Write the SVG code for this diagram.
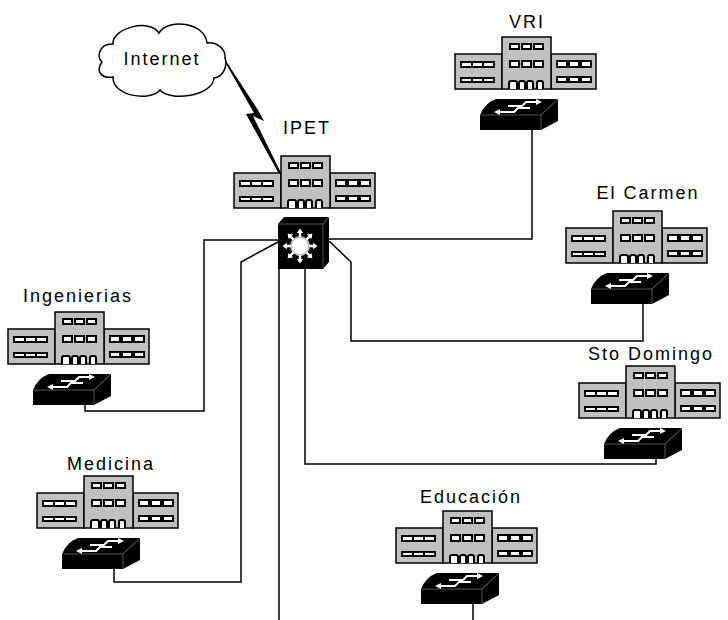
<svg xmlns="http://www.w3.org/2000/svg" width="728" height="620" viewBox="0 0 728 620">
  <style>
    .wall { fill: #c0c0c0; stroke: #000; stroke-width: 1.5; }
    .win { fill: #fff; stroke: #000; stroke-width: 2; }
    .face { fill: #000; }
    .edge { fill: none; stroke: #6a6a6a; stroke-width: 0.8; }
    .glyph { fill: none; stroke: #fff; stroke-width: 2; }
    .wire { fill: none; stroke: #000; stroke-width: 1.5; }
    .label { font-family: "Liberation Sans", Arial, sans-serif; font-size: 18px; letter-spacing: 2px; fill: #000; text-anchor: middle; }
  </style>
  <defs>
    <!-- campus building: two wings and a taller central block -->
    <g id="bldg">
      <rect class="wall" x="0" y="17" width="47" height="35"/>
      <rect class="wall" x="96" y="17" width="45" height="35"/>
      <rect class="wall" x="47" y="0" width="49" height="52"/>
      <g class="win">
        <rect x="6" y="25" width="11" height="5"/><rect x="17" y="25" width="11" height="5"/><rect x="28" y="25" width="11" height="5"/>
        <rect x="6" y="41" width="11" height="4"/><rect x="17" y="41" width="11" height="4"/><rect x="28" y="41" width="11" height="4"/>
        <rect x="55" y="7" width="9" height="5"/><rect x="67" y="7" width="9" height="5"/><rect x="79" y="7" width="9" height="5"/>
        <rect x="55" y="24" width="9" height="6"/><rect x="67" y="24" width="9" height="6"/><rect x="79" y="24" width="9" height="6"/>
        <rect x="102" y="24" width="10" height="6"/><rect x="114" y="24" width="10" height="6"/><rect x="126" y="24" width="10" height="6"/>
        <rect x="102" y="40" width="10" height="5"/><rect x="114" y="40" width="10" height="5"/><rect x="126" y="40" width="10" height="5"/>
        <!-- doors -->
        <path d="M54,52 V46 Q54,44 56,44 H60 Q62,44 62,46 V52"/>
        <path d="M64,52 V46 Q64,44 66,44 H68 Q70,44 70,46 V52"/>
        <path d="M72,52 V46 Q72,44 74,44 H76 Q78,44 78,46 V52"/>
        <path d="M82,52 V46 Q82,44 84,44 H86 Q88,44 88,46 V52"/>
      </g>
    </g>
    <!-- workgroup switch -->
    <g id="sw">
      <path class="face" d="M16,0 H78 L61,16 H0 Q5,4 16,0 Z"/>
      <rect class="face" x="0" y="16" width="61" height="15"/>
      <polygon class="face" points="61,16 78,0 78,22 61,31"/>
      <path class="edge" d="M0,16 H61 L78,0 M61,16 V31"/>
      <path class="glyph" d="M28,7 H42 L46,3 H57"/>
      <path d="M56,0 L62,3 L56,6 Z" fill="#fff"/>
      <path class="glyph" d="M50,9 H38 L34,13 H19"/>
      <path d="M20,10 L14,13 L20,16 Z" fill="#fff"/>
    </g>
    <!-- outward arrow of the multilayer switch -->
    <path id="ray" d="M-1.2,-9 V-13 H-3.2 L0,-17.5 L3.2,-13 H1.2 V-9 Z" fill="#fff"/>
  </defs>

  <!-- connectors -->
  <g id="connectors">
    <polyline class="wire" points="329,239 532,239 532,130"/>
    <polyline class="wire" points="329,241 351,262 351,341 643,341 643,304"/>
    <polyline class="wire" points="305,269 305,464 656,464 656,459"/>
    <polyline class="wire" points="279,269 279,620"/>
    <polyline class="wire" points="278,240 204,240 204,411 85,411 85,405"/>
    <polyline class="wire" points="278,242 241,262 241,582 114,582 114,569"/>
    <polyline class="wire" points="473,604 473,620"/>
    <!-- WAN link to the Internet -->
    <polygon fill="#000" points="226,61 258,110 264,121 253,116 281,173 279,174 246,114 254,113 225,62"/>
  </g>

  <g id="internet">
    <path d="M113,44 C112,28 150,18 159,33 C168,18 205,22 207,43 C216,42 226,48 225,58 C228,66 223,77 214,78 C213,96 170,102 160,90 C150,102 112,96 113,77 C100,79 96,70 102,62 C96,56 100,43 113,44 Z" fill="#fff" stroke="#000" stroke-width="1.5"/>
    <text class="label" x="162" y="65">Internet</text>
  </g>

  <g id="ipet">
    <text class="label" x="307" y="134">IPET</text>
    <use href="#bldg" x="234" y="156"/>
    <g id="ipet-switch">
      <rect class="face" x="278" y="224" width="45" height="45"/>
      <polygon class="face" points="278,224 284,217 329,217 323,224"/>
      <polygon class="face" points="323,224 329,217 329,262 323,269"/>
      <path class="edge" d="M278,224 H323 L329,217 M323,224 V269"/>
      <circle cx="300" cy="246" r="10" fill="#bbb"/>
      <circle cx="300" cy="246" r="8" fill="#fff"/>
      <g transform="translate(300,246)">
        <use href="#ray"/>
        <use href="#ray" transform="rotate(45)"/>
        <use href="#ray" transform="rotate(90)"/>
        <use href="#ray" transform="rotate(135)"/>
        <use href="#ray" transform="rotate(180)"/>
        <use href="#ray" transform="rotate(225)"/>
        <use href="#ray" transform="rotate(270)"/>
        <use href="#ray" transform="rotate(315)"/>
      </g>
    </g>
  </g>

  <g id="vri">
    <text class="label" x="527" y="28">VRI</text>
    <use href="#bldg" x="455" y="37"/>
    <use href="#sw" x="480" y="99"/>
  </g>

  <g id="el-carmen">
    <text class="label" x="648" y="199">El Carmen</text>
    <use href="#bldg" x="566" y="211"/>
    <use href="#sw" x="591" y="273"/>
  </g>

  <g id="ingenierias">
    <text class="label" x="78" y="302">Ingenierias</text>
    <use href="#bldg" x="8" y="312"/>
    <use href="#sw" x="33" y="374"/>
  </g>

  <g id="sto-domingo">
    <text class="label" x="651" y="360">Sto Domingo</text>
    <use href="#bldg" x="579" y="366"/>
    <use href="#sw" x="604" y="428"/>
  </g>

  <g id="medicina">
    <text class="label" x="111" y="470">Medicina</text>
    <use href="#bldg" x="37" y="476"/>
    <use href="#sw" x="62" y="538"/>
  </g>

  <g id="educacion">
    <text class="label" x="471" y="503">Educación</text>
    <use href="#bldg" x="396" y="511"/>
    <use href="#sw" x="421" y="573"/>
  </g>
</svg>
